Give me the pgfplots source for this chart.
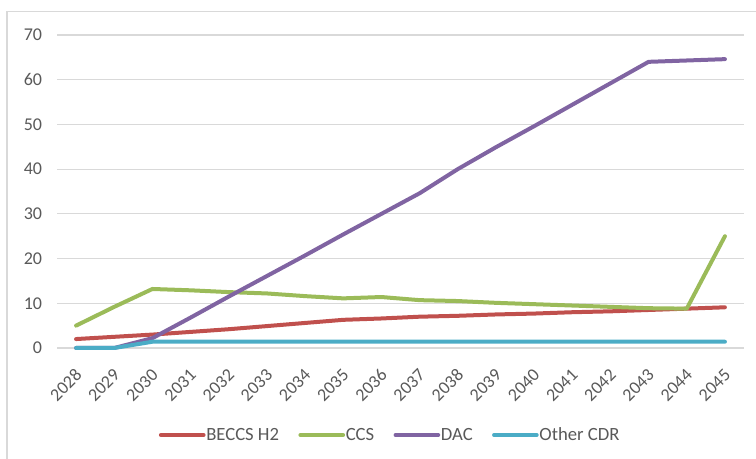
\documentclass[border=0pt]{standalone}
\usepackage{pgfplots}
\pgfplotsset{compat=1.18}
\usepackage{fontspec}
\setmainfont{Carlito}

\definecolor{txtgray}{HTML}{595959}
\definecolor{gridgray}{HTML}{D9D9D9}
\definecolor{beccs}{HTML}{C0504D}
\definecolor{ccs}{HTML}{9BBB59}
\definecolor{dac}{HTML}{8064A2}
\definecolor{othercdr}{HTML}{4BACC6}

\begin{document}
\begin{tikzpicture}
\useasboundingbox (0,0) rectangle (567pt,344.25pt);
% chart frame
\draw[gridgray, line width=0.9pt] (5.25pt,-10pt) -- (5.25pt,335.7pt) -- (600pt,335.7pt);
\begin{axis}[
  at={(42.75pt,83.25pt)}, anchor=south west,
  scale only axis,
  width=515.25pt, height=234.75pt,
  xmin=-0.5, xmax=17.5,
  ymin=0, ymax=70,
  ytick={0,10,...,70},
  xtick={0,...,17},
  xticklabels={2028,2029,2030,2031,2032,2033,2034,2035,2036,2037,2038,2039,2040,2041,2042,2043,2044,2045},
  /pgf/number format/assume math mode=true,
  axis line style={draw=none},
  major tick length=0pt,
  ymajorgrids,
  major grid style={gridgray, line width=0.8pt},
  tick label style={font=\fontsize{13.5}{16}\selectfont, text=txtgray},
  yticklabel style={anchor=east, inner sep=0pt, xshift=-11pt},
  xticklabel style={inner sep=0pt, xshift=2pt, yshift=-18pt, rotate=45, anchor=east},
  clip=false,
  legend columns=4,
  legend style={at={(0.484,-0.278)}, anchor=center, draw=none, fill=none,
    font=\fontsize{14}{16}\selectfont, text=txtgray,
    /tikz/every odd column/.append style={column sep=0pt},
    /tikz/every even column/.append style={column sep=14pt},
    nodes={inner sep=0.5pt}},
  legend image code/.code={\draw[#1, line width=3pt, line cap=round] (0pt,0pt) -- (32pt,0pt);},
  every axis plot/.append style={line width=3pt, line cap=round, line join=round},
]
\addplot[beccs] coordinates {
 (0,2.0) (1,2.5) (2,3.0) (3,3.6) (4,4.2) (5,4.9) (6,5.6) (7,6.3) (8,6.6)
 (9,7.0) (10,7.2) (11,7.5) (12,7.7) (13,8.0) (14,8.2) (15,8.5) (16,8.8) (17,9.1)};
\addlegendentry{BECCS H2}
\addplot[ccs] coordinates {
 (0,5.0) (1,9.2) (2,13.2) (3,12.9) (4,12.5) (5,12.2) (6,11.6) (7,11.1) (8,11.4)
 (9,10.7) (10,10.5) (11,10.1) (12,9.8) (13,9.5) (14,9.2) (15,8.9) (16,8.8) (17,25.0)};
\addlegendentry{CCS}
\addplot[dac] coordinates {
 (0,0) (1,0) (2,2.2) (3,6.8) (4,11.5) (5,16.1) (6,20.7) (7,25.4) (8,30.0)
 (9,34.6) (10,40.0) (11,44.9) (12,49.6) (13,54.4) (14,59.2) (15,64.0) (16,64.3) (17,64.6)};
\addlegendentry{DAC}
\addplot[othercdr] coordinates {
 (0,0) (1,0) (2,1.4) (3,1.4) (4,1.4) (5,1.4) (6,1.4) (7,1.4) (8,1.4)
 (9,1.4) (10,1.4) (11,1.4) (12,1.4) (13,1.4) (14,1.4) (15,1.4) (16,1.4) (17,1.4)};
\addlegendentry{Other CDR}
\end{axis}
\end{tikzpicture}
\end{document}
